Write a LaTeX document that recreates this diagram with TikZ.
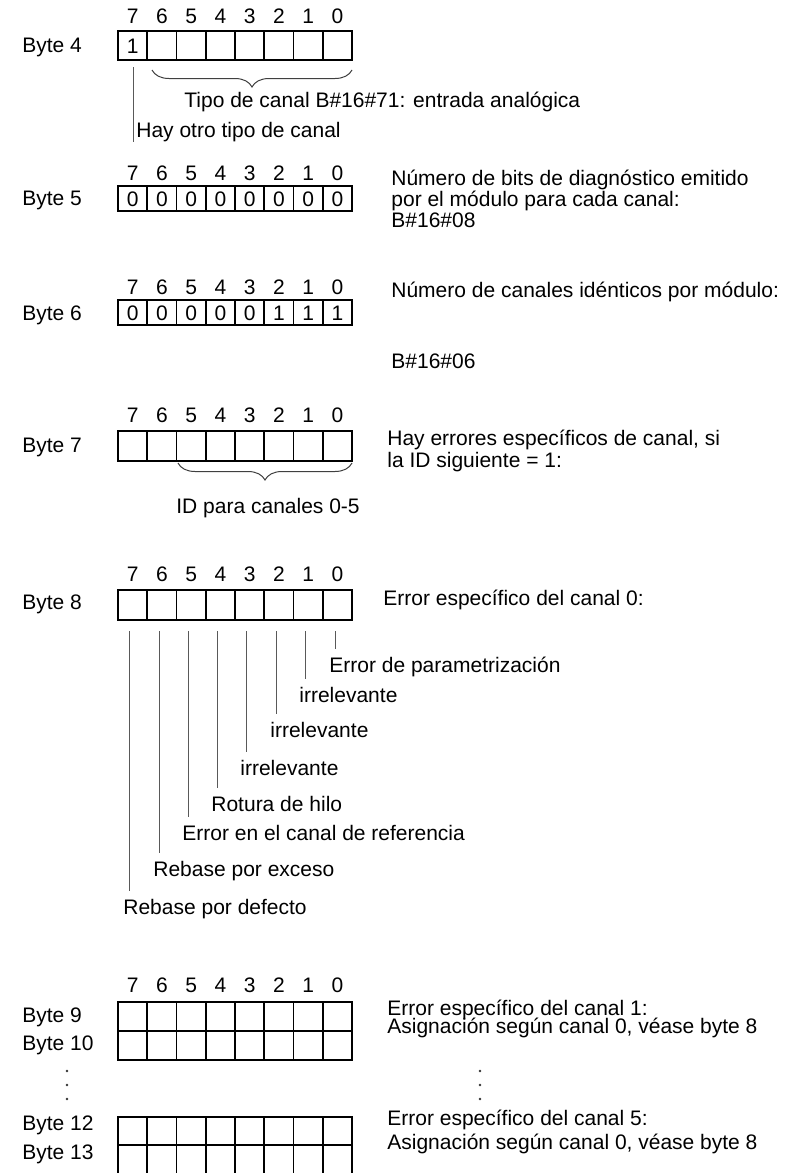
\documentclass[tikz,border=0pt]{standalone}
\usepackage{fontspec}
\setmainfont{Liberation Sans}
\usetikzlibrary{decorations.pathreplacing}

\begin{document}
\begin{tikzpicture}[
    x=0.5pt, y=-0.5pt,
    font=\fontsize{10.5}{12.5}\selectfont,
    celda/.style={draw=black, line width=0.8pt},
    numbit/.style={anchor=base, inner sep=0pt},
    rotulo/.style={anchor=base west, inner sep=0pt},
    texto/.style={anchor=base west, inner sep=0pt},
    aviso/.style={anchor=base west, inner xsep=0pt, inner ysep=4pt},
    linea/.style={black!65, line width=0.5pt},
    llave/.style={decorate, decoration={brace, mirror, amplitude=8.5pt}, black!75, line width=0.5pt},
    punto/.style={fill=black!80}
  ]
  \useasboundingbox (0,0) rectangle (786,1173);
  % 1 px del original = 0,5 pt; celdas de 29,25 px, la primera empieza en x = 118.

  % --- numeros de bit encima de cada byte ---
  \foreach \fy/\fn in {16/a, 173/b, 287/c, 415/d, 574/e, 985/f}{
    \foreach \b in {0,...,7}{
      \node[numbit] (bit\fn\b) at ({132.6+29.25*(7-\b)},{\fy+7.5}) {\b};
    }
  }

  % --- filas de celdas ---
  \foreach \ya/\yb in {31/60, 186/211, 300/325, 431/461, 590/620, 1002/1060}{
    \draw[celda] (118,\ya) rectangle (352,\yb);
    \foreach \i in {1,...,7}{
      \draw[celda] ({118+29.25*\i},\ya) -- ({118+29.25*\i},\yb);
    }
  }
  \draw[celda] (118,1031) -- (352,1031);
  % bytes 12 y 13: la figura queda cortada por abajo
  \draw[celda] (118,1180) -- (118,1117) -- (352,1117) -- (352,1180);
  \draw[celda] (118,1145) -- (352,1145);
  \foreach \i in {1,...,7}{
    \draw[celda] ({118+29.25*\i},1117) -- ({118+29.25*\i},1180);
  }

  % --- contenido de las celdas ---
  \node[numbit] (v4) at (132.6,53) {1};
  \foreach \b/\v in {7/0, 6/0, 5/0, 4/0, 3/0, 2/0, 1/0, 0/0}{
    \node[numbit] (v5\b) at ({132.6+29.25*(7-\b)},206) {\v};
  }
  \foreach \b/\v in {7/0, 6/0, 5/0, 4/0, 3/0, 2/1, 1/1, 0/1}{
    \node[numbit] (v6\b) at ({132.6+29.25*(7-\b)},320) {\v};
  }

  % --- rotulos de byte ---
  \foreach \yy/\nn in {45/4, 198/5, 313/6, 445/7, 602/8, 1015/9, 1043/10, 1123/12, 1152/13}{
    \node[rotulo] (byte\nn) at (22,{\yy+7.5}) {Byte \nn};
  }
  % puntos suspensivos verticales
  \foreach \yy in {1071, 1085, 1099}{
    \fill[punto] (67,\yy) circle (0.7pt);
    \fill[punto] (480,\yy) circle (0.7pt);
  }

  % --- byte 4 ---
  \draw[llave] (152,70) -- (352,70);
  \node[texto] (tipo) at (184,107.5) {Tipo de canal B\#16\#71: entrada analógica};
  \coordinate (c47) at (133,67);
  \node[texto] (otro) at (136,137.5) {Hay otro tipo de canal};
  \draw[linea] (c47) -- (c47 |- otro.south);

  % --- byte 5 y byte 6 ---
  \node[texto] (b5a) at (391,185.5) {Número de bits de diagnóstico emitido};
  \node[texto] (b5b) at (391,206.5) {por el módulo para cada canal:};
  \node[texto] (b5c) at (391,227.5) {B\#16\#08};
  \node[texto] (b6a) at (391,297.5) {Número de canales idénticos por módulo:};
  \node[texto] (b6b) at (391,368.5) {B\#16\#06};

  % --- byte 7 ---
  \draw[llave] (178,463) -- (352,463);
  \node[texto] (id) at (176,513.5) {ID para canales 0-5};
  \node[texto] (b7a) at (387,445.5) {Hay errores específicos de canal, si};
  \node[texto] (b7b) at (387,467.5) {la ID siguiente = 1:};

  % --- byte 8: un rotulo por bit ---
  \node[texto] (b8) at (383,605.5) {Error específico del canal 0:};
  \foreach \b/\lx/\ly/\txt in {7/129/907/Rebase por defecto,
                               6/159/869/Rebase por exceso,
                               5/188/833/Error en el canal de referencia,
                               4/217/804/Rotura de hilo,
                               3/246/768/irrelevante,
                               2/276/730/irrelevante,
                               1/305/695/irrelevante,
                               0/335/665/Error de parametrización}{
    \coordinate (c8\b) at (\lx,631);
    \node[aviso] (e8\b) at ({\lx-6},{\ly+7.5}) {\txt};
    \draw[linea] (c8\b) -- (c8\b |- e8\b.north);
  }

  % --- bytes 9 a 13 ---
  \node[texto] (b9a) at (387,1015.5) {Error específico del canal 1:};
  \node[texto] (b9b) at (387,1033.5) {Asignación según canal 0, véase byte 8};
  \node[texto] (b12a) at (387,1125.5) {Error específico del canal 5:};
  \node[texto] (b12b) at (387,1149.5) {Asignación según canal 0, véase byte 8};
\end{tikzpicture}
\end{document}
